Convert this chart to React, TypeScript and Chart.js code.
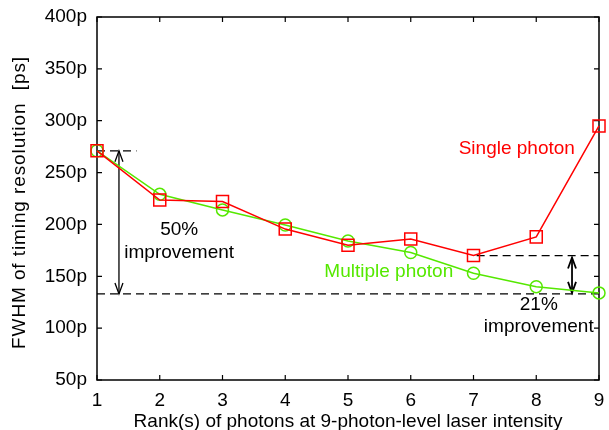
import React, { useEffect, useRef } from "react";
import { Chart, registerables } from "chart.js";

Chart.register(...registerables);

const ranks = [1, 2, 3, 4, 5, 6, 7, 8, 9];
const singlePhoton = [271, 223.5, 222, 195.5, 180, 186, 170, 188, 295];
const multiplePhoton = [271, 229, 214, 199.5, 184, 173, 153, 140, 134];
const xTicks = [1, 2, 3, 4, 5, 6, 7, 8, 9];
const yTicks = [50, 100, 150, 200, 250, 300, 350, 400];

const xTitle = "Rank(s) of photons at 9-photon-level laser intensity";
const yTitle = "FWHM of timing resolution  [ps]";
const singleLabel = "Single photon";
const multipleLabel = "Multiple photon";
const bigGain = ["50%", "improvement"];
const smallGain = ["21%", "improvement"];
const bestSingle = 271;
const bestMultiple = 133;
const singleAt7 = 170;

const RED = "#ff0000";
const GREEN = "#55e800";
const FONT = "'Liberation Sans', Arial, Helvetica, sans-serif";
const FS = 19;

function arrowHead(ctx: CanvasRenderingContext2D, x: number, y: number, dir: number) {
  ctx.beginPath();
  ctx.moveTo(x - 4, y - dir * 11);
  ctx.lineTo(x, y);
  ctx.lineTo(x + 4, y - dir * 11);
  ctx.stroke();
}

const overlay = {
  id: "overlay",
  beforeDatasetsDraw(chart: any) {
    const { ctx, chartArea: a, scales } = chart;
    const xs = scales.x, ys = scales.y;
    ctx.save();
    ctx.strokeStyle = "#000";
    ctx.lineWidth = 1.5;
    ctx.strokeRect(a.left, a.top, a.right - a.left, a.bottom - a.top);
    ctx.lineWidth = 1.2;
    ctx.beginPath();
    xTicks.forEach((v) => {
      const px = xs.getPixelForValue(v);
      ctx.moveTo(px, a.bottom);
      ctx.lineTo(px, a.bottom - 5);
      ctx.moveTo(px, a.top);
      ctx.lineTo(px, a.top + 5);
    });
    yTicks.forEach((v) => {
      const py = ys.getPixelForValue(v);
      ctx.moveTo(a.left, py);
      ctx.lineTo(a.left + 5, py);
      ctx.moveTo(a.right, py);
      ctx.lineTo(a.right - 5, py);
    });
    ctx.stroke();

    // dashed reference lines
    ctx.setLineDash([8, 5]);
    ctx.lineWidth = 1.3;
    ctx.beginPath();
    const yTop = ys.getPixelForValue(bestSingle);
    const yBot = ys.getPixelForValue(bestMultiple);
    const y7 = ys.getPixelForValue(singleAt7);
    ctx.moveTo(a.left, yTop);
    ctx.lineTo(xs.getPixelForValue(1.63), yTop);
    ctx.moveTo(a.left, yBot);
    ctx.lineTo(a.right, yBot);
    ctx.moveTo(xs.getPixelForValue(7.05), y7);
    ctx.lineTo(a.right, y7);
    ctx.stroke();
    ctx.setLineDash([]);

    // arrows
    const ax1 = xs.getPixelForValue(1.35);
    ctx.lineWidth = 1.3;
    ctx.beginPath();
    ctx.moveTo(ax1, yTop);
    ctx.lineTo(ax1, yBot);
    ctx.stroke();
    arrowHead(ctx, ax1, yTop, -1);
    arrowHead(ctx, ax1, yBot, 1);
    const ax2 = xs.getPixelForValue(8.57);
    ctx.lineWidth = 1.8;
    ctx.beginPath();
    ctx.moveTo(ax2, y7 + 2);
    ctx.lineTo(ax2, yBot - 1);
    ctx.stroke();
    arrowHead(ctx, ax2, y7 + 2, -1);
    arrowHead(ctx, ax2, yBot - 1, 1);

    // texts
    ctx.font = `${FS}px ${FONT}`;
    ctx.textAlign = "center";
    ctx.textBaseline = "middle";
    ctx.fillStyle = "#000";
    ctx.fillText(bigGain[0], xs.getPixelForValue(2.31), ys.getPixelForValue(194.6));
    ctx.fillText(bigGain[1], xs.getPixelForValue(2.31), ys.getPixelForValue(173));
    ctx.fillText(smallGain[0], xs.getPixelForValue(8.04), ys.getPixelForValue(122.3));
    ctx.fillText(smallGain[1], xs.getPixelForValue(8.04), ys.getPixelForValue(101));
    ctx.fillStyle = RED;
    ctx.fillText(singleLabel, xs.getPixelForValue(7.69), ys.getPixelForValue(272.7));
    ctx.fillStyle = GREEN;
    ctx.fillText(multipleLabel, xs.getPixelForValue(5.65), ys.getPixelForValue(154));

    // axis titles
    ctx.fillStyle = "#000";
    ctx.fillText(xTitle, (a.left + a.right) / 2, 422);
    ctx.save();
    ctx.translate(20, (a.top + a.bottom) / 2 + 4);
    ctx.rotate(-Math.PI / 2);
    (ctx as any).letterSpacing = "0.9px";
    ctx.fillText(yTitle, 0, 0);
    ctx.restore();
    ctx.restore();
  },
};

export default function App() {
  const ref = useRef<HTMLCanvasElement | null>(null);
  useEffect(() => {
    if (!ref.current) return;
    const chart = new Chart(ref.current, {
      type: "line",
      data: {
        datasets: [
          {
            label: singleLabel,
            data: ranks.map((r, i) => ({ x: r, y: singlePhoton[i] })),
            borderColor: RED,
            backgroundColor: "rgba(0,0,0,0)",
            borderWidth: 1.5,
            pointStyle: "rect",
            pointRadius: 8.5,
            pointBorderWidth: 1.5,
            pointBorderColor: RED,
            pointBackgroundColor: "rgba(0,0,0,0)",
            clip: false as any,
          },
          {
            label: multipleLabel,
            data: ranks.map((r, i) => ({ x: r, y: multiplePhoton[i] })),
            borderColor: GREEN,
            backgroundColor: "rgba(0,0,0,0)",
            borderWidth: 1.5,
            pointStyle: "circle",
            pointRadius: 6,
            pointBorderWidth: 1.5,
            pointBorderColor: GREEN,
            pointBackgroundColor: "rgba(0,0,0,0)",
            clip: false as any,
          },
        ],
      },
      options: {
        animation: false,
        responsive: false,
        devicePixelRatio: 1,
        layout: { padding: { left: 0, right: 6, top: 17, bottom: 0 } },
        plugins: { legend: { display: false }, tooltip: { enabled: false } },
        scales: {
          x: {
            type: "linear",
            min: 1,
            max: 9,
            grid: { display: false, drawTicks: false },
            border: { display: false },
            afterBuildTicks: (s: any) => {
              s.ticks = xTicks.map((v) => ({ value: v }));
            },
            afterFit: (s: any) => {
              s.height = 50;
              s.paddingLeft = 0;
              s.paddingRight = 0;
              s.paddingTop = 0;
              s.paddingBottom = 0;
            },
            ticks: {
              color: "#000",
              padding: 9,
              maxRotation: 0,
              font: { family: FONT, size: FS },
            },
          },
          y: {
            type: "linear",
            min: 50,
            max: 400,
            grid: { display: false, drawTicks: false },
            border: { display: false },
            afterBuildTicks: (s: any) => {
              s.ticks = yTicks.map((v) => ({ value: v }));
            },
            afterFit: (s: any) => {
              s.width = 97;
              s.paddingLeft = 0;
              s.paddingRight = 0;
              s.paddingTop = 0;
              s.paddingBottom = 0;
            },
            ticks: {
              color: "#000",
              padding: 10,
              font: { family: FONT, size: FS },
              callback: (v: any) => `${v}p`,
            },
          },
        },
      },
      plugins: [overlay],
    });
    return () => chart.destroy();
  }, []);
  return (
    <div style={{ position: "fixed", left: 0, top: 0, width: 609, height: 430, background: "#fff" }}>
      <canvas ref={ref} width={609} height={430} style={{ width: 609, height: 430, display: "block" }} />
    </div>
  );
}
